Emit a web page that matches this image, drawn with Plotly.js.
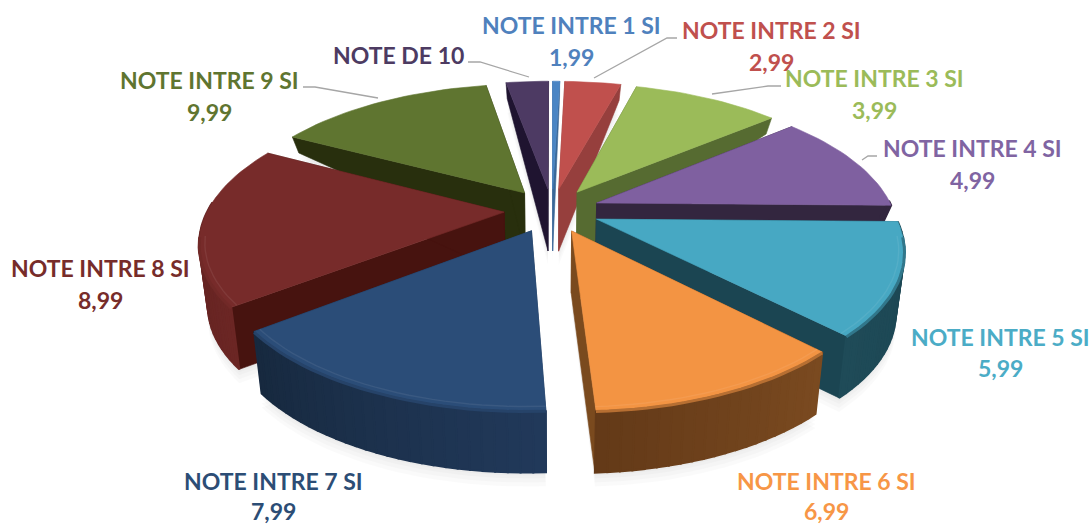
<!DOCTYPE html>
<html>
<head>
<meta charset="utf-8">
<script src="https://cdn.plot.ly/plotly-3.0.1.min.js"></script>
<style>html,body{margin:0;padding:0;background:#fff}#chart{width:1090px;height:524px}</style>
</head>
<body>
<div id="chart"></div>
<script>
// ---- data ----
const categories = ["NOTE INTRE 1 SI","NOTE INTRE 2 SI","NOTE INTRE 3 SI","NOTE INTRE 4 SI","NOTE INTRE 5 SI","NOTE INTRE 6 SI","NOTE INTRE 7 SI","NOTE INTRE 8 SI","NOTE INTRE 9 SI","NOTE DE 10"];
const valueLabels = ["1,99","2,99","3,99","4,99","5,99","6,99","7,99","8,99","9,99",""];
const shares = [0.47,3.7,9.7,11.4,12.5,11.4,15.3,18.3,14.4,2.8];

// ---- styles ----
const topColors  = ["#4a85c4","#c0504d","#9bbb59","#7f60a0","#47a8c3","#f39443","#2b4d78","#772b2a","#5f7530","#4d3a63"];
const textColors = ["#4f81bd","#c0504d","#9bbb59","#8064a2","#4bacc6","#f79646","#2c4d75","#772c2a","#5f7530","#4d3b62"];
const cutColors  = ["#3a6898","#963f3d","#566b31","#33263f","#1b4552","#7a4a1e","#1d3654","#47130f","#282f0d","#1f1430"];
const wallStart  = ["#3a6898","#963f3d","#566b31","#33263f","#1b4552","#7a4a20","#21395a","#6b2624","#282f0d","#1f1430"];
const wallEnd    = ["#3a6898","#963f3d","#566b31","#33263f","#1f4b58","#643a18","#17293f","#5e2120","#282f0d","#1f1430"];
const drawOrder  = [9,1,0,2,8,3,7,4,6,5];
const leaderColor = "#a6a6a6";
const labelFont = "Lato, Carlito, 'Open Sans', sans-serif";
const labelSize = 23;

// label centres (name line, value line) and leader polylines, in chart pixels
const labelPos = [[571,25,57],[771,30,62],[874,78,110],[972,148,180],[1000,337,368],[826,481,511],[273,481,511],[100,268,300],[209,80,112],[398,55,0]];
const leaders = [
  [[468,480,529],[62,62,77]],
  [[677,667,594],[38,38,78]],
  [[781,768,712],[86,86,94]],
  [[877,868,862],[156,156,160]],
  [[303,315,378],[87,87,98]]
];

// ---- projection of the tilted pie ----
const cx = 552, cy = 206, kx = 307, ky = 140, persp = 0.2;
const explode = 0.155, R = 0.96, yShift = 0.03, bottomShrink = 0.975, apexDepth = 62;
const rad = d => d * Math.PI / 180;
function proj(X, Y) { const s = 1 / (1 - persp * Y); return [cx + kx * X * s, cy + ky * Y * s]; }
function depth(Y) { let t = Math.min(1, Math.max(0, (Y + 0.05) / 0.35)); t = t * t * (3 - 2 * t); return 16 + 46 * t; }
function lower(X, Y) { const p = proj(X, Y); return [cx + (p[0] - cx) * bottomShrink, p[1] + depth(Y)]; }
function lowerApex(X, Y) { const p = proj(X, Y); return [cx + (p[0] - cx) * bottomShrink, p[1] + apexDepth]; }
function hex(c) { return [1,3,5].map(i => parseInt(c.substr(i,2),16)); }
function mix(a, b, t) { const A = hex(a), B = hex(b); return "rgb(" + A.map((v,i) => Math.round(v + (B[i]-v)*t)).join(",") + ")"; }

const traces = [];
function poly(pts, color, lw) {
  traces.push({type:"scatter", mode:"lines", x:pts.map(p=>p[0]).concat(pts[0][0]), y:pts.map(p=>p[1]).concat(pts[0][1]),
    fill:"toself", fillcolor:color, line:{color:color, width:lw === undefined ? 0.6 : lw}, hoverinfo:"skip", showlegend:false});
}
function path(xs, ys, color, width) {
  traces.push({type:"scatter", mode:"lines", x:xs, y:ys, line:{color:color, width:width}, hoverinfo:"skip", showlegend:false});
}

const total = shares.reduce((a,b) => a + b, 0);
let acc = 0;
const slices = shares.map(v => {
  const a0 = acc / total * 360; acc += v; const a1 = acc / total * 360; const m = (a0 + a1) / 2;
  const C = [explode * Math.sin(rad(m)), yShift - explode * Math.cos(rad(m))];
  const arc = [], n = Math.max(2, Math.ceil((a1 - a0) / 2));
  for (let i = 0; i <= n; i++) {
    const a = a0 + (a1 - a0) * i / n;
    arc.push([C[0] + R * Math.sin(rad(a)), C[1] - R * Math.cos(rad(a))]);
  }
  return {C, arc};
});

// soft floor shadow
[14,10,6,3].forEach(dy => slices.forEach(s => {
  const pts = [lowerApex(s.C[0], s.C[1])].concat(s.arc.map(p => lower(p[0], p[1]))).map(p => [p[0], p[1] + dy]);
  poly(pts, "rgba(0,0,0,0.02)", 0);
}));

drawOrder.forEach(i => {
  const s = slices[i], arc = s.arc, C = s.C;
  const first = arc[0], last = arc[arc.length - 1];
  // cut faces
  [first, last].forEach(e => poly([proj(C[0],C[1]), proj(e[0],e[1]), lower(e[0],e[1]), lowerApex(C[0],C[1])], cutColors[i]));
  // outer wall, drawn as overlapping strips so that no seams show; the back of the rim stays hidden
  for (let k = 0; k < arc.length - 1; k++) {
    const a = arc[k], b = arc[k+1];
    if (a[1] < -0.02 && b[1] < -0.02) continue;
    poly([proj(a[0],a[1]), proj(b[0],b[1]), lower(b[0],b[1]), lower(a[0],a[1])], mix(wallStart[i], wallEnd[i], k / (arc.length - 2 || 1)), 2);
  }
  // top face
  poly([proj(C[0],C[1])].concat(arc.map(p => proj(p[0],p[1]))), topColors[i]);
  // rim
  const frontArc = arc.filter(p => p[1] > 0.2);
  if (frontArc.length > 1) {
    const edge = frontArc.map(p => proj(p[0],p[1]));
    path(edge.map(p=>p[0]), edge.map(p=>p[1] + 1), mix(topColors[i], wallStart[i], 0.5), 3);
    const inner = frontArc.map(p => {
      const d = [p[0]-C[0], p[1]-C[1]];
      return proj(C[0] + d[0]*0.982, C[1] + d[1]*0.982);
    });
    path(inner.map(p=>p[0]), inner.map(p=>p[1]), mix(topColors[i], "#ffffff", 0.07), 1.4);
  }
});

leaders.forEach(l => path(l[0], l[1], leaderColor, 1.3));

const annotations = [];
categories.forEach((c, i) => {
  const p = labelPos[i];
  annotations.push({x:p[0], y:p[1], xref:"x", yref:"y", text:"<b>"+c+"</b>", showarrow:false, xanchor:"center", yanchor:"middle",
    font:{family:labelFont, size:labelSize, color:textColors[i]}});
  if (valueLabels[i]) annotations.push({x:p[0], y:p[2], xref:"x", yref:"y", text:"<b>"+valueLabels[i]+"</b>", showarrow:false, xanchor:"center", yanchor:"middle",
    font:{family:labelFont, size:labelSize, color:textColors[i]}});
});

Plotly.newPlot("chart", traces, {
  width:1090, height:524, margin:{l:0,r:0,t:0,b:0}, paper_bgcolor:"#fff", plot_bgcolor:"#fff", showlegend:false,
  xaxis:{range:[0,1090], visible:false, fixedrange:true},
  yaxis:{range:[524,0], visible:false, fixedrange:true},
  annotations
}, {displayModeBar:false, staticPlot:true});
</script>
</body>
</html>
